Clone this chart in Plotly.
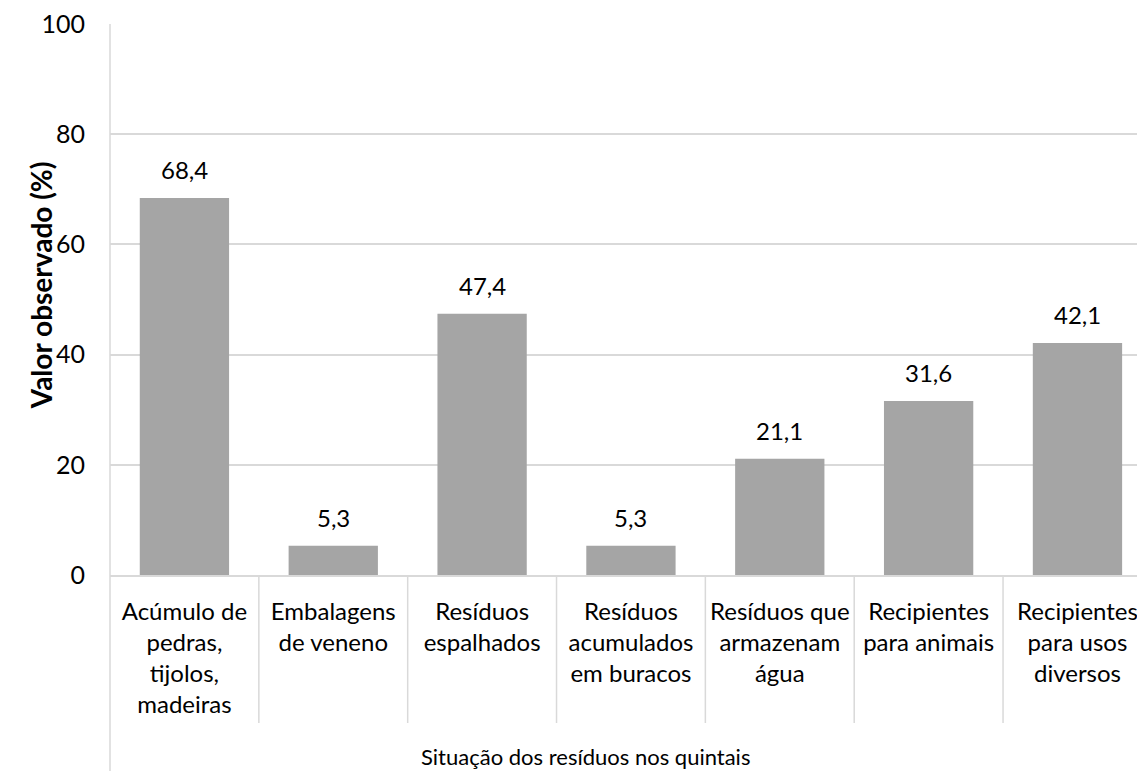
import plotly.graph_objects as go

categories = [
    "Acúmulo de<br>pedras,<br>tijolos,<br>madeiras",
    "Embalagens<br>de veneno",
    "Resíduos<br>espalhados",
    "Resíduos<br>acumulados<br>em buracos",
    "Resíduos que<br>armazenam<br>água",
    "Recipientes<br>para animais",
    "Recipientes<br>para usos<br>diversos",
]
values = [68.4, 5.3, 47.4, 5.3, 21.1, 31.6, 42.1]
y_ticks = [0, 20, 40, 60, 80, 100]

FONT = "Lato"
GRID = "#d9d9d9"
BAR = "#a5a5a5"

idx = list(range(len(categories)))

fig = go.Figure()
fig.add_trace(go.Bar(
    x=idx, y=values,
    marker=dict(color=BAR, line=dict(width=0)),
    hoverinfo="skip",
))

# value labels above each bar
for i, v in zip(idx, values):
    fig.add_annotation(
        x=i, y=v, xref="x", yref="y",
        text=f"{v:.1f}".replace(".", ","),
        showarrow=False, yanchor="bottom", yshift=12,
        font=dict(family=FONT, size=24, color="#000000"),
    )

# category separators below the axis
n = len(categories)
for k in range(1, n):
    fig.add_shape(type="line", xref="x", yref="paper",
                  x0=k - 0.5, x1=k - 0.5, y0=0, y1=-0.2686,
                  line=dict(color=GRID, width=1.5))
# left boundary runs down through the label area
fig.add_shape(type="line", xref="paper", yref="paper",
              x0=0, x1=0, y0=1, y1=-0.36,
              line=dict(color=GRID, width=1.5))

fig.add_annotation(
    text="<b>Valor observado (%)</b>", textangle=-90,
    xref="paper", yref="paper", x=0, y=0.526, xshift=-88,
    showarrow=False, font=dict(family=FONT, size=28, color="#000000"),
)
fig.add_annotation(
    text="Situação dos resíduos nos quintais",
    xref="paper", yref="paper", x=0.463, y=-0.33, yanchor="middle",
    showarrow=False, font=dict(family=FONT, size=22, color="#000000"),
)

fig.update_layout(
    width=1137, height=771,
    margin=dict(l=110, r=0, t=24, b=196),
    paper_bgcolor="white", plot_bgcolor="white",
    separators=",.",
    bargap=0.4,
    showlegend=False,
    font=dict(family=FONT, size=24, color="#000000"),
)
fig.update_xaxes(
    tickmode="array", tickvals=idx, ticktext=categories,
    range=[-0.5, n - 0.5 - 0.1], showgrid=False,
    showline=True, linecolor=GRID, linewidth=1.5,
    ticks="", ticklabelstandoff=14, ticklabeloverflow="allow",
    tickfont=dict(family=FONT, size=24, color="#000000"),
)
fig.update_yaxes(
    range=[0, 100], tickmode="array", tickvals=y_ticks,
    showgrid=True, gridcolor=GRID, gridwidth=1.5,
    zeroline=False, showline=False, ticks="",
    ticklabelstandoff=24,
    tickfont=dict(family=FONT, size=25, color="#000000"),
)

fig.write_html("out.html")
